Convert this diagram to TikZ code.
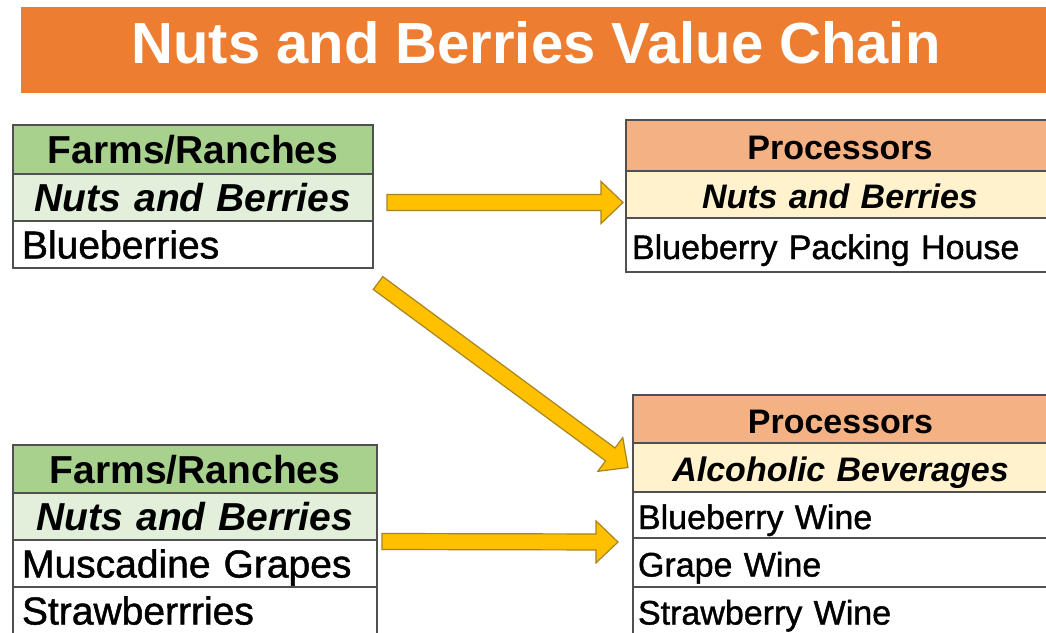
\documentclass[tikz,border=0pt]{standalone}
\usepackage{fontspec}
\setmainfont{Liberation Sans}
\newfontfamily\bodyface[FakeBold=1.2]{Liberation Sans}
\usetikzlibrary{positioning,calc}

\definecolor{titleorange}{HTML}{ED7D31}
\definecolor{farmgreen}{HTML}{A9D18E}
\definecolor{farmlight}{HTML}{E2EFDA}
\definecolor{procsalmon}{HTML}{F4B183}
\definecolor{proclight}{HTML}{FFF2CC}
\definecolor{arrowgold}{HTML}{FFC000}
\definecolor{arrowedge}{HTML}{A88420}
\definecolor{cellline}{HTML}{505050}

\newcommand{\farmfont}{\fontsize{39}{41}\selectfont}
\newcommand{\procfont}{\fontsize{34}{36}\selectfont}

\tikzset{
  cell/.style={draw=cellline, line width=1.3pt, outer sep=0pt, inner ysep=0pt,
    text height=28pt, text depth=0pt, minimum height=47pt},
  farmhead/.style={cell, fill=farmgreen, font=\farmfont\bfseries, align=center, inner xsep=9pt, text width=#1},
  farmsub/.style={cell, fill=farmlight, font=\farmfont\bfseries\itshape, align=center, inner xsep=9pt, text width=#1},
  farmbody/.style={cell, fill=white, font=\bodyface\farmfont, align=left, inner xsep=9pt, text width=#1},
  prochead/.style={cell, fill=procsalmon, font=\procfont\bfseries, align=center, inner xsep=6pt, text width=#1},
  procsub/.style={cell, fill=proclight, font=\procfont\bfseries\itshape, align=center, inner xsep=6pt, text width=#1},
  procbody/.style={cell, fill=white, font=\bodyface\procfont, align=left, inner xsep=6pt, text width=#1},
  titlebar/.style={fill=titleorange, text=white, font=\fontsize{58}{60}\selectfont\bfseries,
    minimum width=1030pt, minimum height=86pt, inner sep=0pt, text height=41pt, text depth=15pt},
  arrowshape/.style={fill=arrowgold, draw=arrowedge, line width=1.2pt, line join=miter}
}

\newcommand{\valuearrow}[2]{%
  \coordinate (va-h) at ($(#2)!22pt!(#1)$);
  \filldraw[arrowshape] ($(#1)!8pt!90:(#2)$) -- ($(va-h)!8pt!90:(#2)$) -- ($(va-h)!21pt!90:(#2)$)
    -- (#2) -- ($(va-h)!21pt!-90:(#2)$) -- ($(va-h)!8pt!-90:(#2)$) -- ($(#1)!8pt!-90:(#2)$) -- cycle;
}

\begin{document}
\begin{tikzpicture}[x=1pt, y=-1pt]
\useasboundingbox (0,0) rectangle (1046,632);
\clip (0,0) rectangle (1046,632);
\fill[white] (0,0) rectangle (1046,632);

\node (title) at (536,50) [titlebar] {Nuts and Berries Value Chain};

\node (farmA) at (13,125) [farmhead=342pt, anchor=north west, minimum height=49pt] {Farms/Ranches};
\node (nutsA) [farmsub=342pt, below=0pt of farmA] {Nuts and Berries};
\node (blueA) [farmbody=342pt, below=0pt of nutsA] {Blueberries};

\node (procA) at (626,120) [prochead=416pt, anchor=north west, minimum height=51pt] {Processors};
\node (nutsP) [procsub=416pt, below=0pt of procA] {Nuts and Berries};
\node (packP) [procbody=416pt, below=0pt of nutsP, minimum height=54pt] {Blueberry Packing House};

\node (farmB) at (13,445) [farmhead=346pt, anchor=north west, minimum height=48pt] {Farms/Ranches};
\node (nutsB) [farmsub=346pt, below=0pt of farmB] {Nuts and Berries};
\node (muscB) [farmbody=346pt, below=0pt of nutsB] {Muscadine Grapes};
\node (strawB) [farmbody=346pt, below=0pt of muscB] {Strawberrries};

\node (procB) at (633,395) [prochead=405pt, anchor=north west, minimum height=48pt, inner xsep=5pt] {Processors};
\node (alcP) [procsub=405pt, below=0pt of procB, inner xsep=5pt, minimum height=49pt] {Alcoholic Beverages};
\node (bwineP) [procbody=405pt, below=0pt of alcP, inner xsep=5pt, minimum height=46pt] {Blueberry Wine};
\node (gwineP) [procbody=405pt, below=0pt of bwineP, inner xsep=5pt, minimum height=49pt] {Grape Wine};
\node (swineP) [procbody=405pt, below=0pt of gwineP, inner xsep=5pt] {Strawberry Wine};

\coordinate (a1tail) at ($(nutsA.east)+(14,5)$);
\coordinate (a1tip) at ($(nutsP.west)+(-3,8)$);
\valuearrow{a1tail}{a1tip}
\coordinate (a2tail) at ($(blueA.south east)+(5,15)$);
\coordinate (a2tip) at ($(alcP.west)+(-5,0)$);
\valuearrow{a2tail}{a2tip}
\coordinate (a3tail) at ($(nutsB.east)+(5,25)$);
\coordinate (a3tip) at ($(bwineP.west)+(-15,27)$);
\valuearrow{a3tail}{a3tip}
\end{tikzpicture}
\end{document}
